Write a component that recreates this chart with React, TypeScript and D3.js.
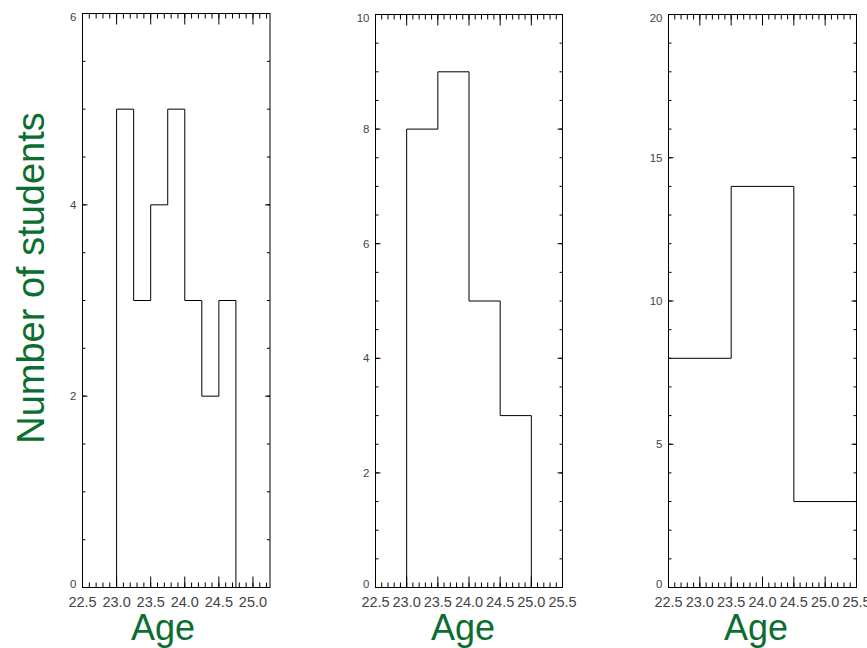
import React from "react";
import * as d3 from "d3";

// Panel 1 histogram (bin width 0.25)
const edges1 = [23.0, 23.25, 23.5, 23.75, 24.0, 24.25, 24.5, 24.75];
const counts1 = [5, 3, 4, 5, 3, 2, 3];
// Panel 2 histogram (bin width 0.5)
const edges2 = [23.0, 23.5, 24.0, 24.5, 25.0];
const counts2 = [8, 9, 5, 3];
// Panel 3 histogram (bin width 1.0)
const edges3 = [22.5, 23.5, 24.5, 25.5];
const counts3 = [8, 14, 3];

const xDomains = [[22.5, 25.25], [22.5, 25.5], [22.5, 25.5]];
const yMaxes = [6, 10, 20];
const yMajorSteps = [2, 2, 5];
const yMinorSteps = [0.5, 0.5, 1];
const xAxisLabel = "Age";
const yAxisLabel = "Number of students";

const GREEN = "#0b6e31";
const TICKCOL = "#444";
const FONT = "'Liberation Sans', Arial, Helvetica, sans-serif";

type PanelProps = {
  left: number; right: number; top: number; bottom: number;
  xDomain: number[]; yMax: number; yMajor: number; yMinor: number;
  edges: number[]; counts: number[]; ageX: number;
};

function range(start: number, stop: number, step: number) {
  const out: number[] = [];
  const n = Math.round((stop - start) / step);
  for (let i = 0; i <= n; i++) out.push(+(start + i * step).toFixed(4));
  return out;
}

function Panel(p: PanelProps) {
  const x = d3.scaleLinear().domain(p.xDomain).range([p.left, p.right]);
  const y = d3.scaleLinear().domain([0, p.yMax]).range([p.bottom, p.top]);
  const pts: [number, number][] = [];
  pts.push([p.edges[0], 0]);
  p.counts.forEach((c, i) => {
    pts.push([p.edges[i], c]);
    pts.push([p.edges[i + 1], c]);
  });
  pts.push([p.edges[p.edges.length - 1], 0]);
  const line = d3.line<[number, number]>().x(d => x(d[0])).y(d => y(d[1]));

  const xMinor = range(p.xDomain[0], p.xDomain[1], 0.1).filter(v => v <= p.xDomain[1] + 1e-6);
  const xMajor = range(p.xDomain[0], p.xDomain[1] - ((p.xDomain[1] - p.xDomain[0]) % 0.5), 0.5);
  const yMinorT = range(0, p.yMax, p.yMinor);
  const yMajorT = range(0, p.yMax, p.yMajor);
  const XMAJ = 11, XMIN = 5, YMAJ = 5, YMIN = 3;

  return (
    <g>
      {xMinor.map((v, i) => (
        <g key={"xm" + i} stroke="#000" strokeWidth={1}>
          <line x1={x(v)} x2={x(v)} y1={p.bottom} y2={p.bottom - XMIN} />
          <line x1={x(v)} x2={x(v)} y1={p.top} y2={p.top + XMIN} />
        </g>
      ))}
      {xMajor.map((v, i) => (
        <g key={"xM" + i}>
          <line x1={x(v)} x2={x(v)} y1={p.bottom} y2={p.bottom - XMAJ} stroke="#000" />
          <line x1={x(v)} x2={x(v)} y1={p.top} y2={p.top + XMAJ} stroke="#000" />
          <text x={x(v)} y={607} textAnchor="middle" fontSize={14.5} fill={TICKCOL} fontFamily={FONT}>
            {v.toFixed(1)}
          </text>
        </g>
      ))}
      {yMinorT.map((v, i) => (
        <g key={"ym" + i} stroke="#000">
          <line x1={p.left} x2={p.left + YMIN} y1={y(v)} y2={y(v)} />
          <line x1={p.right} x2={p.right - YMIN} y1={y(v)} y2={y(v)} />
        </g>
      ))}
      {yMajorT.map((v, i) => {
        let ty = y(v) + 4;
        if (ty > p.bottom) ty = p.bottom;
        if (ty - 8 < p.top) ty = p.top + 7;
        return (
          <g key={"yM" + i}>
            <line x1={p.left} x2={p.left + YMAJ} y1={y(v)} y2={y(v)} stroke="#000" />
            <line x1={p.right} x2={p.right - YMAJ} y1={y(v)} y2={y(v)} stroke="#000" />
            <text x={p.left - 6} y={ty} textAnchor="end" fontSize={11.5} fill={TICKCOL} fontFamily={FONT}>
              {v}
            </text>
          </g>
        );
      })}
      <rect x={p.left} y={p.top} width={p.right - p.left} height={p.bottom - p.top}
        fill="none" stroke="#000" strokeWidth={1} />
      <path d={line(pts) || ""} fill="none" stroke="#000" strokeWidth={1} />
      <text x={p.ageX} y={640} textAnchor="middle" fontSize={36} fill={GREEN} fontFamily={FONT}>
        {xAxisLabel}
      </text>
    </g>
  );
}

export default function App() {
  const panels: PanelProps[] = [
    { left: 82.5, right: 270, top: 13.5, bottom: 587.5, xDomain: xDomains[0], yMax: yMaxes[0],
      yMajor: yMajorSteps[0], yMinor: yMinorSteps[0], edges: edges1, counts: counts1, ageX: 163 },
    { left: 375.5, right: 562.5, top: 14.5, bottom: 587.5, xDomain: xDomains[1], yMax: yMaxes[1],
      yMajor: yMajorSteps[1], yMinor: yMinorSteps[1], edges: edges2, counts: counts2, ageX: 463 },
    { left: 668.5, right: 856.5, top: 14.5, bottom: 587.5, xDomain: xDomains[2], yMax: yMaxes[2],
      yMajor: yMajorSteps[2], yMinor: yMinorSteps[2], edges: edges3, counts: counts3, ageX: 756 },
  ];
  return (
    <svg width={867} height={648} style={{ position: "absolute", left: 0, top: 0, background: "#fff" }}>
      <rect x={0} y={0} width={867} height={648} fill="#fff" />
      {panels.map((p, i) => <Panel key={i} {...p} />)}
      <text transform="translate(44,278) rotate(-90)" textAnchor="middle" fontSize={38}
        fill={GREEN} fontFamily={FONT}>
        {yAxisLabel}
      </text>
    </svg>
  );
}
